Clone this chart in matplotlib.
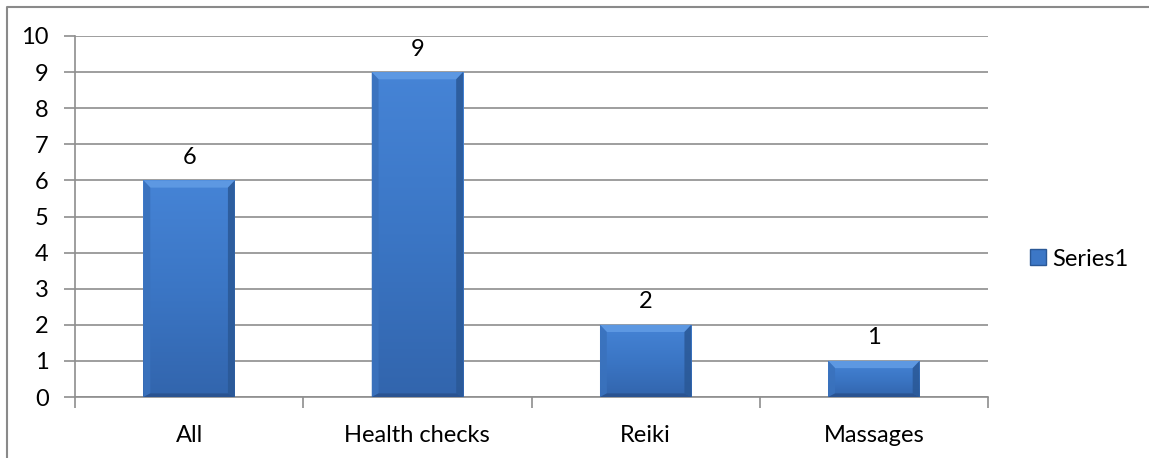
import matplotlib
matplotlib.use("Agg")
import numpy as np
import matplotlib.pyplot as plt
from matplotlib.patches import Polygon
from matplotlib.lines import Line2D
from matplotlib.colors import LinearSegmentedColormap
import matplotlib.patches as mpatches

categories = ["All", "Health checks", "Reiki", "Massages"]
values = [6, 9, 2, 1]
series_name = "Series1"
y_ticks = list(range(0, 11))

FACE = "#3c77c6"
LIGHT = "#5d98e2"
DARK = "#2a5896"
SIDE = "#3a72bd"
GRID = "#8e8e8e"
FS = 17

plt.rcParams["font.family"] = ["Lato", "DejaVu Sans"]

fig = plt.figure(figsize=(11.49, 4.58), dpi=100)
ax = fig.add_axes([75 / 1149, 1 - 397 / 458, (988 - 75) / 1149, (397 - 36) / 458])

x = list(range(len(categories)))
bars = ax.bar(x, values, width=0.4, color=FACE, zorder=3, edgecolor="none")

# vertical shading: lighter at the top, deeper at the base
shade = LinearSegmentedColormap.from_list("shade", ["#3265ad", "#3b76c5", "#4684d6"])
grad = np.linspace(0, 1, 256).reshape(-1, 1)

for b in bars:
    x0, y0 = b.get_x(), b.get_y()
    w, h = b.get_width(), b.get_height()
    x1, y1 = x0 + w, y0 + h
    im = ax.imshow(grad, extent=(x0, x1, y0, y1), origin="lower", cmap=shade,
                   aspect="auto", zorder=3.5, interpolation="bicubic")
    im.set_clip_path(b)
    dx = w * 0.075
    dy = 0.2
    # bevel faces
    ax.add_patch(Polygon([(x0, y1), (x1, y1), (x1 - dx, y1 - dy), (x0 + dx, y1 - dy)],
                         closed=True, color=LIGHT, zorder=4, lw=0))
    ax.add_patch(Polygon([(x0, y0), (x0, y1), (x0 + dx, y1 - dy), (x0 + dx, y0 + dy * 0.5)],
                         closed=True, color=SIDE, zorder=4, lw=0, alpha=0.9))
    ax.add_patch(Polygon([(x1, y0), (x1, y1), (x1 - dx, y1 - dy), (x1 - dx, y0 + dy * 0.5)],
                         closed=True, color=DARK, zorder=4, lw=0, alpha=0.85))
    ax.add_patch(Polygon([(x0, y0), (x1, y0), (x1 - dx, y0 + dy * 0.5), (x0 + dx, y0 + dy * 0.5)],
                         closed=True, color="#284f8a", zorder=4, lw=0, alpha=0.8))
    ax.annotate(f"{int(h)}", (b.get_x() + w / 2, y1), xytext=(0, 9),
                textcoords="offset points", ha="center", va="bottom",
                fontsize=FS, color="black")

ax.set_xlim(-0.5, len(categories) - 0.5)
ax.set_ylim(0, 10)
ax.set_yticks(y_ticks)
ax.set_xticks(x)
ax.set_xticklabels(categories, fontsize=FS)
ax.tick_params(axis="y", labelsize=FS, length=8, width=1.2, color=GRID, pad=11)
ax.tick_params(axis="x", length=0, pad=20)
# category boundary ticks on the x axis
ax.set_xticks([i - 0.5 for i in range(len(categories) + 1)], minor=True)
ax.tick_params(axis="x", which="minor", length=8, width=1.2, color=GRID)

ax.grid(axis="y", color=GRID, lw=1.2, zorder=0)
for s in ["top", "right"]:
    ax.spines[s].set_visible(False)
for s in ["left", "bottom"]:
    ax.spines[s].set_color(GRID)
    ax.spines[s].set_linewidth(1.2)

# legend
handle = mpatches.Patch(facecolor=FACE, edgecolor=DARK, lw=1)
fig.legend([handle], [series_name], loc="center left",
           bbox_to_anchor=(1009 / 1149, 1 - 259 / 458), frameon=False,
           fontsize=FS, handlelength=0.65, handleheight=0.65, handletextpad=0.3)

# outer chart frame (top and left edges)
fig.add_artist(Line2D([6.5 / 1149, 6.5 / 1149, 1], [0, 1 - 6.5 / 458, 1 - 6.5 / 458],
                      transform=fig.transFigure, color="#8a8a8a", lw=1.5))

fig.savefig("out.png", dpi=100, facecolor="white")
